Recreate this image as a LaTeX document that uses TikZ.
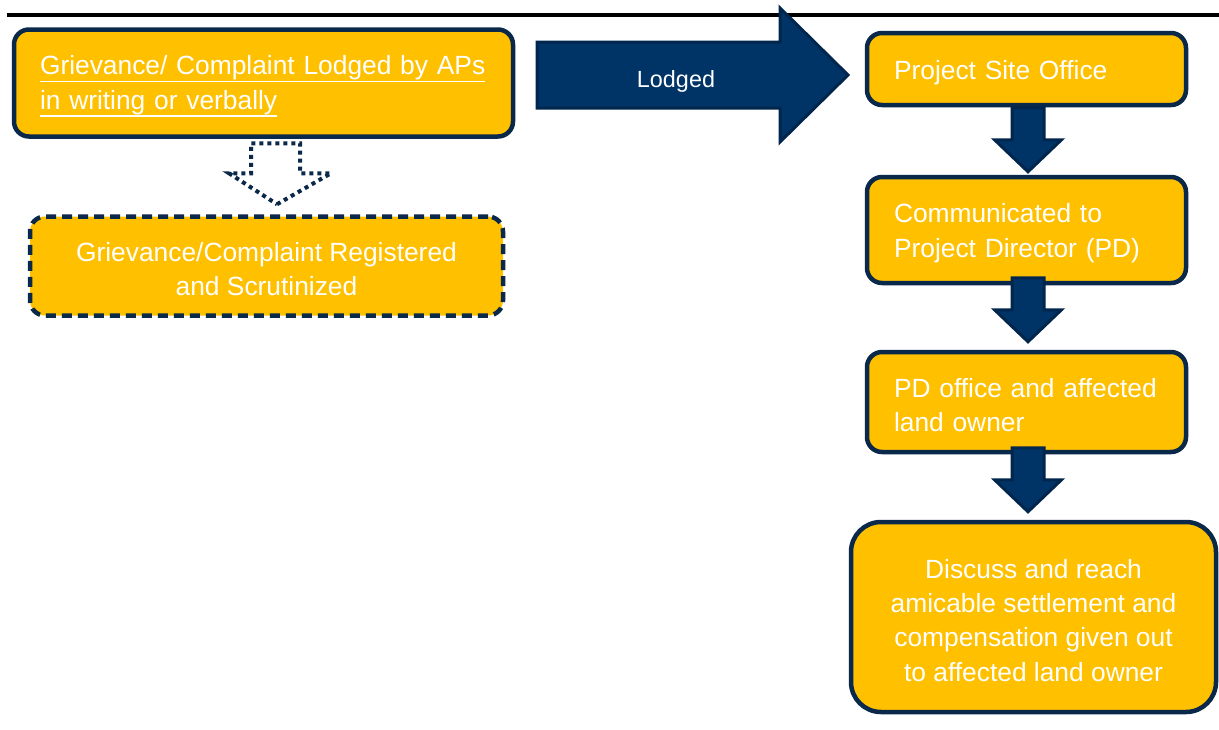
\documentclass[tikz,border=0pt]{standalone}
\usepackage{fontspec}
\setmainfont{Liberation Sans}
\usetikzlibrary{calc}
\newcommand\myul[1]{\leavevmode\setbox0=\hbox{#1}\rlap{\raisebox{-7.5pt}{\rule{\wd0}{1.8pt}}}\box0}
\newcommand\tstrut{\rule{0pt}{25.6pt}}
\definecolor{boxfill}{HTML}{FFC000}
\definecolor{navyline}{HTML}{0A2849}
\definecolor{arrowfill}{HTML}{003366}
\definecolor{arrowline}{HTML}{00264D}
\begin{document}
\begin{tikzpicture}[x=1pt,y=-1pt,
  txt/.style={text=white,font=\fontsize{26.35}{34.3}\selectfont},
  box/.style={txt,draw=navyline,line width=4.5pt,fill=boxfill,rounded corners=15pt,inner sep=0pt},
  dashbox/.style={box,dash pattern=on 10pt off 6pt},
  leftbox/.style={box,align=left,text width=265pt,minimum width=319pt},
  blockarrow/.style={draw=arrowline,fill=arrowfill,line width=3pt,line join=miter},
  dotarrowstyle/.style={draw=navyline,line width=4pt,dash pattern=on 4pt off 4pt},
  downarrow/.pic={\path[blockarrow] (0,0) -- (33.5,-32) -- (16,-32) -- (16,-64) -- (-16,-64) -- (-16,-32) -- (-33.5,-32) -- cycle;},
  dotarrow/.pic={\path[dotarrowstyle] (0,0) -- (54,-31) -- (23,-31) -- (23,-61) -- (-26,-61) -- (-26,-31) -- (-48,-31) -- cycle;}
]
\useasboundingbox (0,0) rectangle (1219,729);
\draw[line width=4pt,black] (7,15) -- (1219,15);

% left column
\node[box,align=left,text width=447pt,minimum width=499pt,minimum height=107pt] (b1) at (263.5,83)
  {\tstrut\myul{Grievance/ Complaint Lodged by APs}\\\myul{in writing or verbally}};
\node[dashbox,align=center,minimum width=473pt,minimum height=99pt] (b2) at (266.5,266)
  {\tstrut Grievance/Complaint Registered\\and Scrutinized};
\pic at ($(b2.north)+(10.5,-10)$) {dotarrow};

% lodged arrow
\path[blockarrow] (537,42) -- (780,42) -- (780,8) -- (848,75) -- (780,142) -- (780,108) -- (537,108) -- cycle;
\node[text=white,font=\fontsize{23.4}{28}\selectfont,anchor=base] (lodged) at (676,87) {Lodged};

% right column
\node[leftbox,minimum height=72pt] (b3) at (1026.5,69) {\tstrut Project Site Office};
\node[leftbox,minimum height=106pt] (b4) at (1026.5,230) {\tstrut Communicated to\\Project Director (PD)};
\node[leftbox,minimum height=100pt] (b5) at (1026.5,402) {\tstrut PD office and affected\\land owner};
\node[box,rounded corners=30pt,align=center,minimum width=365pt,minimum height=190pt] (b6) at (1033.5,617)
  {\tstrut Discuss and reach\\amicable settlement and\\compensation given out\\to affected land owner};

\pic at ($(b4.north)+(1.5,-3)$) {downarrow};
\pic at ($(b5.north)+(1.5,-8)$) {downarrow};
\pic at ($(b6.north)+(-5.5,-8)$) {downarrow};
\end{tikzpicture}
\end{document}
